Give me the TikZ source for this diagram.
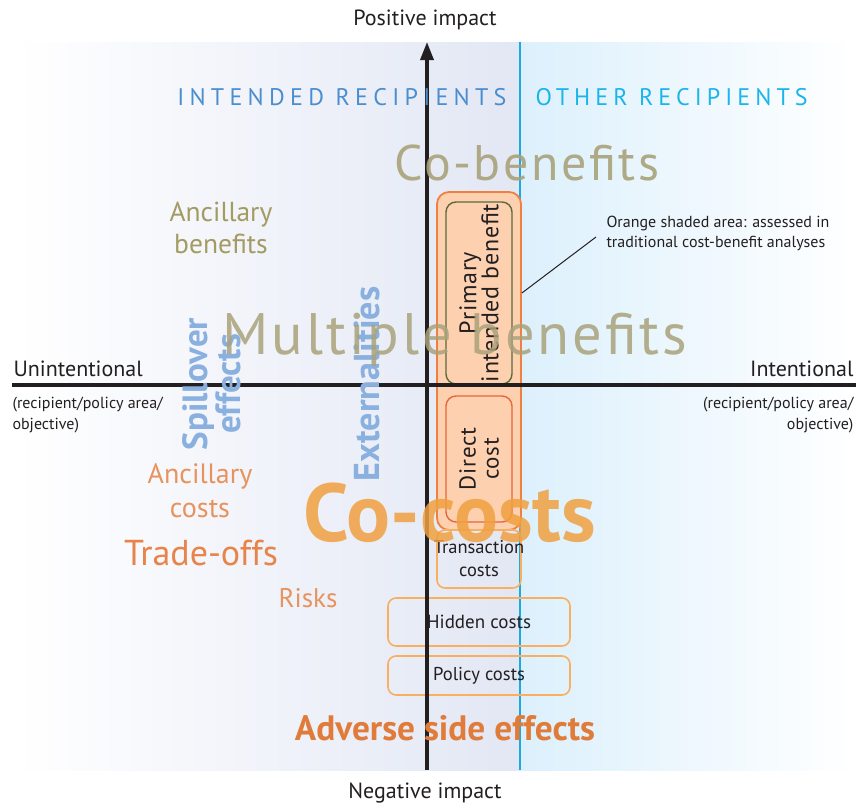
\documentclass[tikz,border=0pt]{standalone}
\usepackage{fontspec}
\setmainfont{PT Sans}
\usetikzlibrary{arrows.meta}
\definecolor{lav}{HTML}{E2E7F4}
\definecolor{cyanbg}{HTML}{DCF0FC}
\definecolor{divblue}{HTML}{1EA8E0}
\definecolor{olivebig}{HTML}{A9A27A}
\definecolor{oliveanc}{HTML}{A39B62}
\definecolor{bluerot}{HTML}{8AB0E0}
\definecolor{orlight}{HTML}{E8935E}
\definecolor{ormid}{HTML}{E8844A}
\definecolor{orcocost}{HTML}{F0A040}
\definecolor{oradverse}{HTML}{E07B3A}
\definecolor{intblue}{HTML}{4A8ED0}
\definecolor{othblue}{HTML}{1BB5EA}
\definecolor{peach}{HTML}{FDD0B0}
\definecolor{boxor}{HTML}{F08040}
\definecolor{greenedge}{HTML}{5A6A3A}
\definecolor{directedge}{HTML}{E8663A}
\definecolor{costedge}{HTML}{F8B060}
\definecolor{txt}{HTML}{231F20}
\tikzset{
  costbox/.style={draw=costedge, line width=1.6pt, rounded corners=8pt, text=txt, align=center, inner sep=0pt},
  axislbl/.style={text=txt, font=\fontsize{22}{26}\selectfont},
  sublbl/.style={text=txt, font=\fontsize{16}{21}\selectfont},
}
\begin{document}
\begin{tikzpicture}[x=1pt,y=-1pt]
\useasboundingbox (0,0) rectangle (856,809);
% background panels
\shade[left color=white, right color=lav] (15,42) rectangle (520,770);
\shade[left color=cyanbg, right color=white] (520,42) rectangle (856,770);
\draw[divblue, line width=2.5pt] (520,42) -- (520,770);
% orange shaded area
\node[draw=boxor, fill=peach, line width=1.8pt, rounded corners=12pt, minimum width=84pt, minimum height=338pt, inner sep=0pt] (shade) at (479,361) {};
\node[draw=greenedge, line width=1.4pt, rounded corners=10pt, minimum width=66pt, minimum height=182pt, inner sep=0pt] (pib) at (479,293) {};
\node[rotate=90, align=center, text=txt, font=\fontsize{24}{22}\selectfont\addfontfeature{LetterSpace=3}] (pibt) at (pib.center) {Primary\\intended benefit};
\node[draw=directedge, line width=1.4pt, rounded corners=10pt, minimum width=66pt, minimum height=126pt, inner sep=0pt] (dc) at (479,459) {};
\node[rotate=90, align=center, text=txt, font=\fontsize{23}{23}\selectfont\addfontfeature{LetterSpace=3}] (dct) at (dc.center) {Direct\\cost};
% cost boxes
\node[costbox, minimum width=84pt, minimum height=58pt] (trans) at (479,559) {};
\node[text=txt, align=center, inner sep=0pt, font=\fontsize{18.5}{23}\selectfont] (transt) at (trans.center) {Transaction\\costs};
\node[costbox, minimum width=182pt, minimum height=48pt, font=\fontsize{19}{22}\selectfont] (hidden) at (479,622) {Hidden costs};
\node[costbox, minimum width=182pt, minimum height=39pt, font=\fontsize{18.6}{22}\selectfont] (policy) at (479,675.5) {Policy costs};
% axes
\draw[txt, line width=3.5pt, -{Triangle[length=18pt,width=13pt]}] (427,770) -- (427,42);
\draw[txt, line width=4pt] (12,385) -- (856,385);
% axis labels
\node[axislbl] (pos) at (425,20) {Positive impact};
\node[axislbl] (neg) at (425,793) {Negative impact};
\node[axislbl, anchor=base west] (unint) at (10,376) {Unintentional};
\node[sublbl, anchor=north west, align=left] (unsub) at (9,394) {(recipient/policy area/\\objective)};
\node[axislbl, anchor=base east] (int) at (857,376) {Intentional};
\node[sublbl, anchor=north east, align=right] (intsub) at (857,394) {(recipient/policy area/\\objective)};
% recipients
\node[text=intblue, anchor=east, font=\fontsize{24}{24}\selectfont\addfontfeature{LetterSpace=22}] (intended) at (510,97) {INTENDED RECIPIENTS};
\node[text=othblue, anchor=west, font=\fontsize{24}{24}\selectfont\addfontfeature{LetterSpace=21}] (other) at (532,97) {OTHER RECIPIENTS};
% big words
\node[text=olivebig, opacity=0.9, font=\fontsize{50}{50}\selectfont\addfontfeature{LetterSpace=5}] (cob) at (527,163) {Co-benefits};
\node[text=oliveanc, align=center, font=\fontsize{27.5}{32}\selectfont] (ancb) at (221,228) {Ancillary\\benefits};
\node[text=bluerot, rotate=90, align=center, font=\bfseries\fontsize{35}{33}\selectfont] (spill) at (212,384) {Spillover\\effects};
\node[text=bluerot, rotate=90, font=\bfseries\fontsize{36}{36}\selectfont] (ext) at (367,384) {Externalities};
\node[text=olivebig, opacity=0.85, font=\fontsize{58.5}{60}\selectfont\addfontfeature{LetterSpace=5}] (multi) at (455,340) {Multiple benefits};
\node[text=orlight, align=center, font=\fontsize{28}{34}\selectfont] (ancc) at (200,491) {Ancillary\\costs};
\node[text=ormid, font=\fontsize{36}{36}\selectfont] (trade) at (201,553) {Trade-offs};
\node[text=orlight, font=\fontsize{27}{27}\selectfont] (risks) at (308,598) {Risks};
\node[text=orcocost, opacity=0.85, font=\bfseries\fontsize{82}{82}\selectfont] (cocost) at (450,513) {Co-costs};
\node[text=oradverse, font=\bfseries\fontsize{35.3}{36}\selectfont] (adverse) at (445,728) {Adverse side effects};
% annotation
\node[text=txt, anchor=north west, align=left, font=\fontsize{16}{20}\selectfont] (note) at (603,213) {Orange shaded area: assessed in\\traditional cost-benefit analyses};
\coordinate (noteend) at (596,237);
\draw[txt, line width=1pt] (shade.east |- 0,293) -- (noteend);
\end{tikzpicture}
\end{document}
